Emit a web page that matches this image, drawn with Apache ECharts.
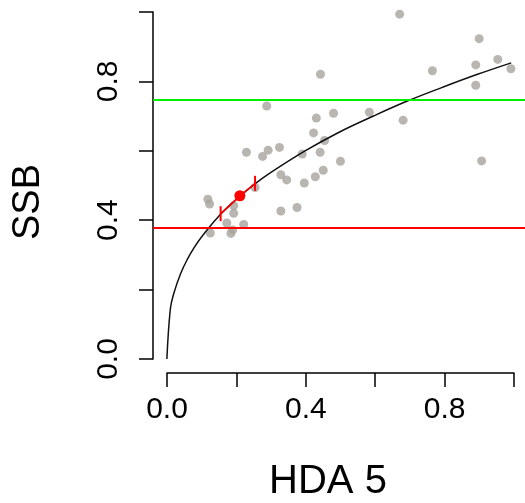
<!DOCTYPE html>
<html><head><meta charset="utf-8">
<script src="https://cdn.jsdelivr.net/npm/echarts@6/dist/echarts.min.js"></script>
<style>html,body{margin:0;padding:0;background:#fff}#c{width:525px;height:503px}</style>
</head><body><div id="c"></div>
<script>
// Observations (HDA 5 vs SSB)
const hdaX = [0.119,0.124,0.194,0.194,0.174,0.223,0.126,0.186,0.191,0.256,
              0.290,0.434,0.484,0.426,0.458,0.231,0.294,0.278,0.327,0.393,
              0.445,0.504,0.331,0.348,0.399,0.431,0.454,0.331,0.378,0.446,
              0.676,0.907,0.897,0.961,0.999,0.771,0.897,0.588,0.686,0.914];
const ssbY = [0.463,0.449,0.444,0.422,0.394,0.390,0.365,0.364,0.374,0.497,
              0.733,0.698,0.712,0.655,0.633,0.599,0.605,0.587,0.613,0.594,
              0.599,0.573,0.534,0.519,0.510,0.528,0.547,0.429,0.439,0.825,
              0.999,0.928,0.852,0.868,0.841,0.835,0.793,0.715,0.692,0.574];
// Fitted curve
const curveX = [0,0.01,0.02,0.04,0.06,0.08,0.10,0.15,0.20,0.25,0.30,0.40,0.50,0.60,0.70,0.80,0.90,1.00];
const curveY = [0,0.145,0.190,0.248,0.290,0.324,0.353,0.413,0.461,0.503,0.539,0.602,0.657,0.704,0.748,0.787,0.824,0.858];
// Current estimate and its interval
const estX = [0.212];
const estY = [0.473];
const ciX = [0.156, 0.256];
const ciY = [0.421, 0.509];
// Reference levels
const lowerRef = 0.3755;  // red
const upperRef = 0.753;   // green
// Axis tick labels shown
const xTickLabels = ['0.0','0.4','0.8'];
const yTickLabels = ['0.0','0.4','0.8'];

const pts = hdaX.map((x,i)=>[x, ssbY[i]]);
const curve = curveX.map((x,i)=>[x, curveY[i]]);
const redSeg = [[ciX[0],ciY[0]]]
  .concat(curve.filter(p=>p[0]>ciX[0] && p[0]<estX[0]))
  .concat([[estX[0],estY[0]]])
  .concat(curve.filter(p=>p[0]>estX[0] && p[0]<ciX[1]))
  .concat([[ciX[1],ciY[1]]]);

const U = 347, X0 = 167, Y0 = 12;
const FONT = 'Liberation Sans, Arial, sans-serif';
const chart = echarts.init(document.getElementById('c'), null, {renderer:'canvas'});
chart.setOption({
  animation:false,
  backgroundColor:'#ffffff',
  grid:[
    {left:X0-0.04*U, top:Y0-0.04*U, width:1.08*U, height:1.08*U},
    {left:X0, top:Y0, width:U, height:U}
  ],
  xAxis:[
    {gridIndex:0, type:'value', min:-0.04, max:1.04, show:false},
    {gridIndex:1, type:'value', min:0, max:1, interval:0.2, position:'bottom', offset:14,
     axisLine:{show:true, onZero:false, lineStyle:{color:'#000', width:1.5}},
     axisTick:{show:true, length:14, lineStyle:{color:'#000', width:1.5}},
     splitLine:{show:false},
     axisLabel:{margin:22, color:'#000', fontSize:30, fontFamily:FONT,
       formatter:v=>{const s=v.toFixed(1); return xTickLabels.includes(s)?s:'';}}}
  ],
  yAxis:[
    {gridIndex:0, type:'value', min:-0.04, max:1.04, show:false},
    {gridIndex:1, type:'value', min:0, max:1, interval:0.2, position:'left', offset:14,
     axisLine:{show:true, onZero:false, lineStyle:{color:'#000', width:1.5}},
     axisTick:{show:true, length:14, lineStyle:{color:'#000', width:1.5}},
     splitLine:{show:false},
     axisLabel:{margin:29, rotate:90, color:'#000', fontSize:30, fontFamily:FONT,
       formatter:v=>{const s=v.toFixed(1); return yTickLabels.includes(s)?s:'';}}}
  ],
  graphic:[
    {type:'text', x:328, y:482, style:{text:'HDA 5', font:'40px '+FONT, fill:'#000', textAlign:'center', textVerticalAlign:'middle'}},
    {type:'text', x:29, y:202, rotation:Math.PI/2, style:{text:'SSB', font:'38px '+FONT, fill:'#000', textAlign:'center', textVerticalAlign:'middle'}}
  ],
  series:[
    {type:'scatter', xAxisIndex:0, yAxisIndex:0, data:pts, symbolSize:9, clip:false,
     itemStyle:{color:'#a8a49e'}, z:2},
    {type:'line', xAxisIndex:0, yAxisIndex:0, data:[], z:3,
     markLine:{silent:true, symbol:'none', label:{show:false},
       data:[{yAxis:lowerRef, lineStyle:{color:'#ff0000', width:2, type:'solid'}},
             {yAxis:upperRef, lineStyle:{color:'#00ee00', width:2, type:'solid'}}]}},
    {type:'line', xAxisIndex:0, yAxisIndex:0, data:curve, showSymbol:false, smooth:0.4,
     lineStyle:{color:'#111', width:1.5}, z:4},
    {type:'line', xAxisIndex:0, yAxisIndex:0, data:redSeg, showSymbol:false, smooth:0.4,
     lineStyle:{color:'#ff0000', width:1.5}, z:5},
    {type:'custom', xAxisIndex:0, yAxisIndex:0, data:ciX.map((x,i)=>[x,ciY[i]]), z:6,
     renderItem:(params, api)=>{
       const p = api.coord([api.value(0), api.value(1)]);
       return {type:'line', shape:{x1:p[0], y1:p[1]-7.5, x2:p[0], y2:p[1]+7.5},
               style:{stroke:'#ff0000', lineWidth:2}};
     }},
    {type:'scatter', xAxisIndex:0, yAxisIndex:0, data:estX.map((x,i)=>[x,estY[i]]), symbolSize:11,
     itemStyle:{color:'#ff0000', opacity:1}, emphasis:{disabled:true}, z:7}
  ]
});
</script></body></html>
